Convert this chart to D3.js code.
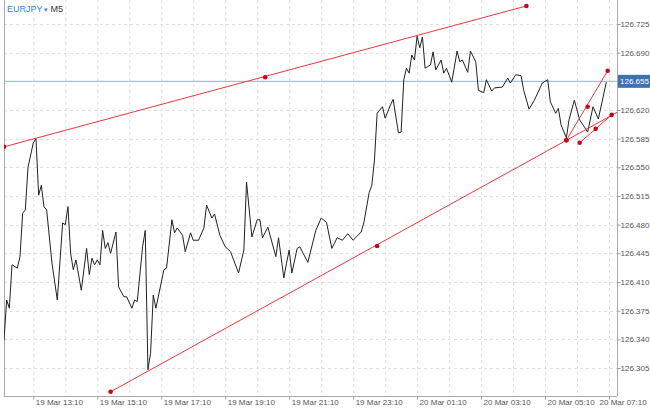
<!DOCTYPE html>
<html><head><meta charset="utf-8">
<script src="https://cdn.jsdelivr.net/npm/d3@7"></script>
<style>body{margin:0;background:#fff}svg{display:block;font-family:"Liberation Sans",Arial,sans-serif}</style>
</head><body>
<script>
// 5-minute bar index (0 = 19 Mar 12:15) and close price
const barIndex = [0,1,2,3,5,6,7,8,9,11,12,13,14,15,16,18,20,22,23,24,25,26,27,29,31,32,33,34,35,36,37,38,39,40,42,43,45,46,48,49,50,52,53,54,55,56,57,60,61,63,64,65,67,68,70,71,73,75,76,78,79,81,83,85,88,90,91,93,95,96,97,99,102,103,105,106,107,108,110,111,114,117,119,121,123,125,127,129,131,134,135,137,138,139,140,142,143,145,146,148,149,150,151,152,153,154,155,156,157,158,160,161,162,164,165,166,168,170,171,172,174,175,177,178,180,181,183,184,187,189,190,192,194,195,197,199,202,204,205,207,208,209,211,212,214,216,219,221,223,226];
const price = [126.339,126.388,126.378,126.431,126.427,126.441,126.494,126.498,126.550,126.580,126.585,126.516,126.528,126.502,126.498,126.433,126.388,126.482,126.480,126.502,126.445,126.425,126.437,126.400,126.451,126.419,126.439,126.431,126.437,126.431,126.473,126.451,126.458,126.445,126.471,126.404,126.392,126.392,126.378,126.388,126.386,126.453,126.473,126.303,126.323,126.394,126.378,126.425,126.427,126.486,126.470,126.476,126.467,126.447,126.470,126.461,126.461,126.476,126.504,126.488,126.493,126.467,126.453,126.447,126.421,126.449,126.532,126.465,126.486,126.486,126.464,126.477,126.441,126.464,126.415,126.433,126.449,126.421,126.451,126.453,126.434,126.473,126.488,126.483,126.451,126.464,126.461,126.469,126.461,126.471,126.482,126.519,126.528,126.559,126.616,126.624,126.610,126.626,126.633,126.592,126.593,126.657,126.671,126.665,126.687,126.681,126.710,126.696,126.709,126.671,126.675,126.691,126.669,126.681,126.665,126.671,126.654,126.692,126.679,126.681,126.666,126.692,126.679,126.644,126.641,126.657,126.643,126.647,126.648,126.659,126.653,126.663,126.662,126.644,126.621,126.632,126.653,126.657,126.630,126.616,126.622,126.602,126.586,126.608,126.632,126.608,126.593,126.624,126.609,126.654];
const yTicks = [126.305,126.340,126.375,126.410,126.445,126.480,126.515,126.550,126.585,126.620,126.655,126.690,126.725];
const xTickIndex = [11,35,59,83,107,131,155,179,203,227];
const xTickLabels = ["19 Mar 13:10","19 Mar 15:10","19 Mar 17:10","19 Mar 19:10","19 Mar 21:10","19 Mar 23:10","20 Mar 01:10","20 Mar 03:10","20 Mar 05:10","20 Mar 07:10"];
const currentPrice = 126.655;
// trendlines: [bar index, price] anchor points
const upperLine = [[0,126.575],[98,126.660],[196,126.747]];
const lowerLine = [[40,126.276],[140,126.454],[211,126.583]];
const channelA = [[211,126.583],[219,126.624],[226.5,126.668]];
const channelB = [[216,126.580],[222,126.597],[228,126.614]];

const W=650,H=410,L=4,R=617,T=0,B=396;
const x=d3.scaleLinear().domain([0,230]).range([L,R]);
const y=d3.scaleLinear().domain([126.305,126.725]).range([368,24]);
const svg=d3.select("body").append("svg").attr("width",W).attr("height",H);
svg.append("defs").append("clipPath").attr("id","c").append("rect").attr("x",L).attr("y",T).attr("width",R-L).attr("height",B-T);
const g=svg.append("g");
const gridIdx=d3.range(11,231,12);
g.selectAll(".gv").data(gridIdx).join("line").attr("x1",d=>x(d)+.5).attr("x2",d=>x(d)+.5).attr("y1",T).attr("y2",B).attr("stroke","#e0e0e0").attr("stroke-dasharray","3,3");
g.selectAll(".gh").data(yTicks).join("line").attr("x1",L).attr("x2",R).attr("y1",d=>Math.round(y(d))+.5).attr("y2",d=>Math.round(y(d))+.5).attr("stroke","#e0e0e0").attr("stroke-dasharray","3,3");
g.append("line").attr("x1",L+.5).attr("x2",L+.5).attr("y1",T).attr("y2",B).attr("stroke","#aaa");
g.append("line").attr("x1",R+.5).attr("x2",R+.5).attr("y1",T).attr("y2",B).attr("stroke","#aaa");
g.append("line").attr("x1",L).attr("x2",R).attr("y1",B+.5).attr("y2",B+.5).attr("stroke","#aaa");
const ya=d3.axisRight(y).tickValues(yTicks).tickFormat(d3.format(".3f")).tickSize(3);
svg.append("g").attr("transform",`translate(${R+.5},0)`).call(ya).call(s=>{s.select(".domain").remove();s.selectAll("line").attr("stroke","#999");s.selectAll("text").attr("fill","#555").style("font-size","8px").attr("x",3);});
const xa=d3.axisBottom(x).tickValues(xTickIndex).tickFormat((d,i)=>xTickLabels[i]).tickSize(3);
svg.append("g").attr("transform",`translate(0,${B+.5})`).call(xa).call(s=>{s.select(".domain").remove();s.selectAll("line").attr("stroke","#999");s.selectAll("text").attr("fill","#555").style("font-size","8px").attr("text-anchor","start").attr("x",(d,i)=>i===xTickIndex.length-1?-10:2).attr("y",3).attr("dy","0.72em");});
const pg=svg.append("g").attr("clip-path","url(#c)");
pg.append("line").attr("x1",L).attr("x2",R).attr("y1",y(currentPrice)).attr("y2",y(currentPrice)).attr("stroke","#9bb4d4").attr("stroke-width",1);
const data=barIndex.map((d,i)=>[d,price[i]]);
pg.append("path").datum(data).attr("d",d3.line().x(d=>x(d[0])).y(d=>y(d[1]))).attr("fill","none").attr("stroke","#222").attr("stroke-width",1);
function extend(pts,toRight){const a=pts[0],b=pts[pts.length-1];if(!toRight)return [a,b];const s=(b[1]-a[1])/(b[0]-a[0]);return [a,[240,a[1]+s*(240-a[0])]];}
[[upperLine,false],[lowerLine,true],[channelA,false],[channelB,false]].forEach(([pts,ext])=>{
  const seg=extend(pts,ext);
  pg.append("line").attr("x1",x(seg[0][0])).attr("y1",y(seg[0][1])).attr("x2",x(seg[1][0])).attr("y2",y(seg[1][1])).attr("stroke","#e8383d").attr("stroke-width",1);
  pg.selectAll(null).data(pts).join("circle").attr("cx",d=>x(d[0])).attr("cy",d=>y(d[1])).attr("r",2.3).attr("fill","#d0021b");
});
const cy=y(currentPrice);
svg.append("rect").attr("x",R+1).attr("y",cy-6.5).attr("width",W-R-1).attr("height",13).attr("fill","#3f73b0");
svg.append("text").attr("x",R+3).attr("y",cy+3).text(d3.format(".3f")(currentPrice)).attr("fill","#fff").style("font-size","8px");
const t=svg.append("text").attr("x",7).attr("y",12).style("font-size","9px");
t.append("tspan").text("EURJPY").attr("fill","#2f86e0");
t.append("tspan").text(" ▾ ").attr("fill","#2f86e0").style("font-size","7px");
t.append("tspan").text("M5").attr("fill","#333");
</script>
</body></html>
